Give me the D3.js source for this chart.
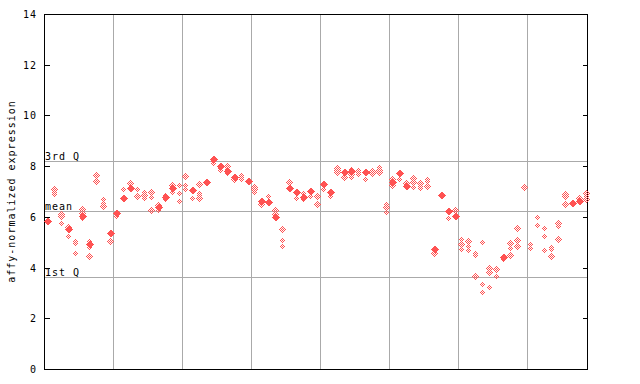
<!DOCTYPE html>
<html>
<head>
<meta charset="utf-8">
<script src="https://cdn.jsdelivr.net/npm/d3@7"></script>
<style>
  html, body { margin: 0; padding: 0; background: #fff; }
  svg { display: block; }
  text { font-family: "DejaVu Sans Mono", monospace; font-size: 10px; fill: #000; }
</style>
</head>
<body>
<svg id="chart" width="640" height="384"></svg>
<script>
// ---- data ----
const yTicks = [0, 2, 4, 6, 8, 10, 12, 14];
const yLabel = "affy-normalized expression";
const refLines = [
  { label: "3rd Q", value: 8.21 },
  { label: "mean", value: 6.23 },
  { label: "1st Q", value: 3.62 }
];
// group separators (between sample columns)
const groupBreaks = [9.5, 19.5, 29.5, 39.5, 49.5, 59.5, 69.5];

// hollow (checkered) markers per sample column
const hollow = [
  [], [7.1, 7.0, 6.9], [6.12, 6.02, 5.76], [5.6, 5.23], [5.06, 4.96, 4.57],
  [6.31, 6.15, 5.95], [5.03, 4.82, 4.44], [7.65, 7.4], [6.7, 6.53, 6.44], [5.05],
  [6.02], [7.09], [7.32], [7.1, 6.81], [6.98, 6.87, 6.76],
  [6.97, 6.78, 6.26], [6.48, 6.27], [6.86, 6.69], [7.27, 7.0], [7.27, 6.95, 6.64],
  [7.6, 7.27, 7.1], [6.73], [7.28, 6.93, 6.85, 6.76], [], [8.19, 8.11],
  [7.91, 7.85], [8.02, 7.9, 7.74], [7.5], [7.65, 7.56, 7.49], [],
  [7.19, 7.09, 6.98], [6.49], [6.81], [6.27, 6.11], [5.51, 5.09, 4.86],
  [7.39], [6.73], [6.93, 6.7], [6.81], [6.81, 6.49],
  [7.09], [6.82], [7.94, 7.85, 7.76], [7.56], [7.89, 7.68, 7.58],
  [7.85, 7.76, 7.68], [7.48], [7.82, 7.72], [7.97, 7.86, 7.76], [6.51, 6.4, 6.18],
  [7.49, 7.27], [7.48], [7.32], [7.53, 7.37, 7.16], [7.32, 7.23, 7.14],
  [7.5, 7.4, 7.2], [4.58], [], [5.94], [6.26],
  [5.11, 4.92, 4.72], [5.05, 4.86, 4.68], [4.56, 4.48, 3.65], [5.0, 3.34, 3.02], [3.98, 3.81, 3.22],
  [3.94, 3.68], [4.32], [4.96, 4.76, 4.48], [5.55, 5.09, 4.86], [7.18],
  [4.92, 4.76], [5.99, 5.68], [5.55, 5.24, 4.69], [4.81, 4.73, 4.44], [5.75, 5.65, 5.11],
  [6.9, 6.83, 6.49], [], [6.73], [6.93, 6.81, 6.7]
];
// solid markers per sample column
const solid = [
  [5.84], [], [], [5.52], [],
  [6.05], [4.93], [], [], [5.35],
  [6.14], [6.76], [7.15], [], [],
  [], [6.38], [6.78], [7.12], [],
  [], [7.07], [], [7.36], [8.29],
  [8.02], [7.82], [7.58], [], [7.43],
  [], [6.62], [6.6], [6.0], [],
  [7.15], [6.99], [6.8], [7.03], [],
  [7.31], [6.99], [], [7.78], [7.81],
  [], [7.78], [], [], [],
  [7.36], [7.74], [7.23], [], [],
  [], [4.72], [6.87], [6.22], [6.03],
  [], [], [], [], [],
  [], [4.43], [], [], [],
  [], [], [], [], [],
  [], [6.56], [6.64], []
];

// ---- drawing ----
const L = 44, R = 587, T = 14, B = 369;
const color = "#ff5252";
const svg = d3.select("#chart");

const x = d3.scaleLinear().domain([-0.5, 78.2]).range([L, R]);
const y = d3.scaleLinear().domain([0, 14]).range([B, T]);
const px = v => Math.round(v) + 0.5;

const defs = svg.append("defs");
const pat = defs.append("pattern")
  .attr("id", "checker").attr("patternUnits", "userSpaceOnUse")
  .attr("width", 2).attr("height", 2);
pat.append("rect").attr("x", 0).attr("y", 0).attr("width", 1).attr("height", 1).attr("fill", color);
pat.append("rect").attr("x", 1).attr("y", 1).attr("width", 1).attr("height", 1).attr("fill", color);

// grid: vertical group separators
svg.append("g").selectAll("line").data(groupBreaks).join("line")
  .attr("x1", d => px(x(d))).attr("x2", d => px(x(d)))
  .attr("y1", T).attr("y2", B)
  .attr("stroke", "#aaaaaa").attr("stroke-width", 1)
  .attr("shape-rendering", "crispEdges");

// reference lines
svg.append("g").selectAll("line").data(refLines).join("line")
  .attr("x1", L).attr("x2", R)
  .attr("y1", d => px(y(d.value))).attr("y2", d => px(y(d.value)))
  .attr("stroke", "#aaaaaa").attr("stroke-width", 1)
  .attr("shape-rendering", "crispEdges");
svg.append("g").selectAll("text").data(refLines).join("text")
  .attr("x", L + 1).attr("y", d => Math.round(y(d.value)) - 1)
  .attr("letter-spacing", "1px")
  .text(d => d.label);

// frame
svg.append("rect")
  .attr("x", L + 0.5).attr("y", T + 0.5)
  .attr("width", R - L).attr("height", B - T)
  .attr("fill", "none").attr("stroke", "#000").attr("stroke-width", 1)
  .attr("shape-rendering", "crispEdges");

// y axes (ticks inside)
const yAxisL = d3.axisRight(y).tickValues(yTicks).tickSize(5).tickFormat("");
svg.append("g").attr("transform", `translate(${L + 0.5},0)`).call(yAxisL)
  .call(g => g.select(".domain").remove())
  .call(g => g.selectAll("line").attr("shape-rendering", "crispEdges"));
const yAxisR = d3.axisLeft(y).tickValues(yTicks).tickSize(5).tickFormat("");
svg.append("g").attr("transform", `translate(${R + 0.5},0)`).call(yAxisR)
  .call(g => g.select(".domain").remove())
  .call(g => g.selectAll("line").attr("shape-rendering", "crispEdges"));
svg.append("g").selectAll("text").data(yTicks).join("text")
  .attr("x", 37).attr("y", d => y(d) + 4)
  .attr("text-anchor", "end")
  .attr("letter-spacing", "1px")
  .text(d => d);

// y label
svg.append("text")
  .attr("transform", `translate(15,${(T + B) / 2}) rotate(-90)`)
  .attr("text-anchor", "middle")
  .attr("letter-spacing", "1px")
  .text(yLabel);

// points
const diamond = (cx, cy, r) => `M${cx},${cy - r}L${cx + r},${cy}L${cx},${cy + r}L${cx - r},${cy}Z`;
const hollowPts = hollow.flatMap((vals, i) => vals.map(v => ({ i, v })));
const solidPts = solid.flatMap((vals, i) => vals.map(v => ({ i, v })));

svg.append("g").selectAll("path").data(hollowPts).join("path")
  .attr("d", d => diamond(Math.round(x(d.i)) + 0.5, Math.round(y(d.v)) + 0.5, 3.5))
  .attr("fill", "url(#checker)")
  .attr("shape-rendering", "crispEdges");
svg.append("g").selectAll("path").data(solidPts).join("path")
  .attr("d", d => diamond(Math.round(x(d.i)) + 0.5, Math.round(y(d.v)) + 0.5, 4))
  .attr("fill", color)
  .attr("shape-rendering", "crispEdges");
</script>
</body>
</html>
